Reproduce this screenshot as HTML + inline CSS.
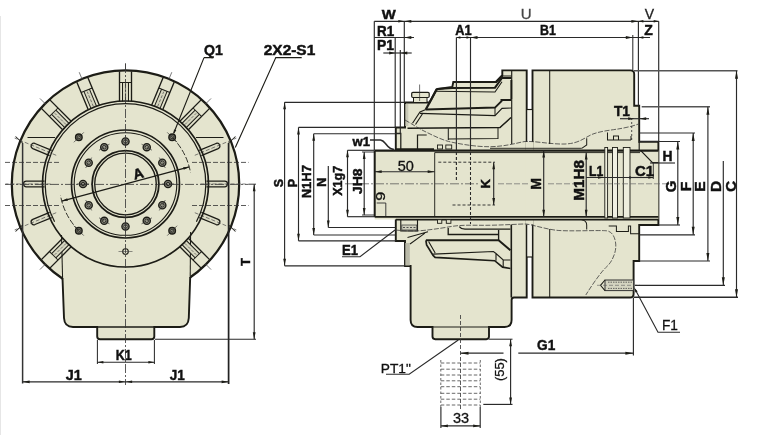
<!DOCTYPE html>
<html><head><meta charset="utf-8"><title>Drawing</title>
<style>
html,body{margin:0;padding:0;background:#fff;overflow:hidden}
svg{display:block;filter:blur(0.35px)}
text{font-family:"Liberation Sans",sans-serif}
</style></head><body>
<svg width="768" height="435" viewBox="0 0 768 435">
<rect x="0" y="0" width="768" height="435" fill="#ffffff"/>
<line x1="0.5" y1="16" x2="0.5" y2="435" stroke="#e6e6e6" stroke-width="1"/>
<g id="leftview">
<circle cx="125.50" cy="184.00" r="113.70" stroke="#1c1c16" stroke-width="2.24" fill="#e4e4ce"/>
<path d="M62,232 L62.5,278 L64,318 Q64.5,327 73,327 L97.2,327 L97.2,336.5 Q97.2,339.2 100,339.2 L151.5,339.2 Q154.3,339.2 154.3,336.5 L154.3,327 L180,327 Q188.3,327 188.8,318 L190.2,277 L190.5,232 Z" stroke="#1c1c16" stroke-width="0.0" fill="#e4e4ce" stroke="none"/>
<path d="M62.5,278 L64,318 Q64.5,327 73,327 L97.2,327 L97.2,336.5 Q97.2,339.2 100,339.2 L151.5,339.2 Q154.3,339.2 154.3,336.5 L154.3,327 L180,327 Q188.3,327 188.8,318 L190.2,277" stroke="#1c1c16" stroke-width="1.9040000000000001" fill="none"/>
<line x1="61.50" y1="235.00" x2="62.60" y2="279.00" stroke="#1c1c16" stroke-width="1.035"/>
<line x1="190.60" y1="232.00" x2="190.20" y2="278.00" stroke="#1c1c16" stroke-width="1.035"/>
<line x1="97.20" y1="327.00" x2="154.30" y2="327.00" stroke="#1c1c16" stroke-width="1.4949999999999999"/>
<path d="M122.50,102.00 L122.50,82.50 L128.50,82.50 L128.50,102.00 Z" stroke="#1c1c16" stroke-width="0.0" fill="#d6d6c0" stroke="none"/>
<path d="M119.50,101.50 L119.50,71.40" stroke="#1c1c16" stroke-width="1.344" fill="none"/>
<path d="M131.50,101.50 L131.50,71.40" stroke="#1c1c16" stroke-width="1.344" fill="none"/>
<path d="M122.50,101.50 L122.50,82.50" stroke="#1c1c16" stroke-width="1.0080000000000002" fill="none"/>
<path d="M128.50,101.50 L128.50,82.50" stroke="#1c1c16" stroke-width="1.0080000000000002" fill="none"/>
<path d="M119.50,82.50 L131.50,82.50" stroke="#1c1c16" stroke-width="1.0080000000000002" fill="none"/>
<path d="M125.50,100.00 L125.50,84.00" stroke="#444" stroke-width="0.672" fill="none" stroke-dasharray="3 1.5"/>
<path d="M125.50,71.00 L125.50,63.00" stroke="#555" stroke-width="0.784" fill="none"/>
<path d="M154.11,107.09 L161.57,89.08 L167.11,91.37 L159.65,109.39 Z" stroke="#1c1c16" stroke-width="0.0" fill="#d6d6c0" stroke="none"/>
<path d="M151.53,105.48 L163.05,77.68" stroke="#1c1c16" stroke-width="1.344" fill="none"/>
<path d="M162.61,110.08 L174.13,82.27" stroke="#1c1c16" stroke-width="1.344" fill="none"/>
<path d="M154.30,106.63 L161.57,89.08" stroke="#1c1c16" stroke-width="1.0080000000000002" fill="none"/>
<path d="M159.84,108.93 L167.11,91.37" stroke="#1c1c16" stroke-width="1.0080000000000002" fill="none"/>
<path d="M158.80,87.93 L169.89,92.52" stroke="#1c1c16" stroke-width="1.0080000000000002" fill="none"/>
<path d="M157.65,106.39 L163.77,91.61" stroke="#444" stroke-width="0.672" fill="none" stroke-dasharray="3 1.5"/>
<path d="M168.74,79.60 L171.80,72.21" stroke="#555" stroke-width="0.784" fill="none"/>
<path d="M181.36,123.90 L195.15,110.11 L199.39,114.35 L185.60,128.14 Z" stroke="#1c1c16" stroke-width="0.0" fill="#d6d6c0" stroke="none"/>
<path d="M179.59,121.42 L200.88,100.14" stroke="#1c1c16" stroke-width="1.344" fill="none"/>
<path d="M188.08,129.91 L209.36,108.62" stroke="#1c1c16" stroke-width="1.344" fill="none"/>
<path d="M181.71,123.54 L195.15,110.11" stroke="#1c1c16" stroke-width="1.0080000000000002" fill="none"/>
<path d="M185.96,127.79 L199.39,114.35" stroke="#1c1c16" stroke-width="1.0080000000000002" fill="none"/>
<path d="M193.03,107.99 L201.51,116.47" stroke="#1c1c16" stroke-width="1.0080000000000002" fill="none"/>
<path d="M184.90,124.60 L196.21,113.29" stroke="#444" stroke-width="0.672" fill="none" stroke-dasharray="3 1.5"/>
<path d="M205.40,104.10 L211.06,98.44" stroke="#555" stroke-width="0.784" fill="none"/>
<path d="M91.35,109.39 L83.89,91.37 L89.43,89.08 L96.89,107.09 Z" stroke="#1c1c16" stroke-width="0.0" fill="#d6d6c0" stroke="none"/>
<path d="M88.39,110.08 L76.87,82.27" stroke="#1c1c16" stroke-width="1.344" fill="none"/>
<path d="M99.47,105.48 L87.95,77.68" stroke="#1c1c16" stroke-width="1.344" fill="none"/>
<path d="M91.16,108.93 L83.89,91.37" stroke="#1c1c16" stroke-width="1.0080000000000002" fill="none"/>
<path d="M96.70,106.63 L89.43,89.08" stroke="#1c1c16" stroke-width="1.0080000000000002" fill="none"/>
<path d="M81.11,92.52 L92.20,87.93" stroke="#1c1c16" stroke-width="1.0080000000000002" fill="none"/>
<path d="M93.35,106.39 L87.23,91.61" stroke="#444" stroke-width="0.672" fill="none" stroke-dasharray="3 1.5"/>
<path d="M82.26,79.60 L79.20,72.21" stroke="#555" stroke-width="0.784" fill="none"/>
<path d="M65.40,128.14 L51.61,114.35 L55.85,110.11 L69.64,123.90 Z" stroke="#1c1c16" stroke-width="0.0" fill="#d6d6c0" stroke="none"/>
<path d="M62.92,129.91 L41.64,108.62" stroke="#1c1c16" stroke-width="1.344" fill="none"/>
<path d="M71.41,121.42 L50.12,100.14" stroke="#1c1c16" stroke-width="1.344" fill="none"/>
<path d="M65.04,127.79 L51.61,114.35" stroke="#1c1c16" stroke-width="1.0080000000000002" fill="none"/>
<path d="M69.29,123.54 L55.85,110.11" stroke="#1c1c16" stroke-width="1.0080000000000002" fill="none"/>
<path d="M49.49,116.47 L57.97,107.99" stroke="#1c1c16" stroke-width="1.0080000000000002" fill="none"/>
<path d="M66.10,124.60 L54.79,113.29" stroke="#444" stroke-width="0.672" fill="none" stroke-dasharray="3 1.5"/>
<path d="M45.60,104.10 L39.94,98.44" stroke="#555" stroke-width="0.784" fill="none"/>
<path d="M185.60,239.86 L199.39,253.65 L195.15,257.89 L181.36,244.10 Z" stroke="#1c1c16" stroke-width="0.0" fill="#d6d6c0" stroke="none"/>
<path d="M188.08,238.09 L209.36,259.38" stroke="#1c1c16" stroke-width="1.344" fill="none"/>
<path d="M179.59,246.58 L200.88,267.86" stroke="#1c1c16" stroke-width="1.344" fill="none"/>
<path d="M185.96,240.21 L199.39,253.65" stroke="#1c1c16" stroke-width="1.0080000000000002" fill="none"/>
<path d="M181.71,244.46 L195.15,257.89" stroke="#1c1c16" stroke-width="1.0080000000000002" fill="none"/>
<path d="M201.51,251.53 L193.03,260.01" stroke="#1c1c16" stroke-width="1.0080000000000002" fill="none"/>
<path d="M184.90,243.40 L196.21,254.71" stroke="#444" stroke-width="0.672" fill="none" stroke-dasharray="3 1.5"/>
<path d="M205.40,263.90 L211.06,269.56" stroke="#555" stroke-width="0.784" fill="none"/>
<path d="M69.64,244.10 L55.85,257.89 L51.61,253.65 L65.40,239.86 Z" stroke="#1c1c16" stroke-width="0.0" fill="#d6d6c0" stroke="none"/>
<path d="M71.41,246.58 L50.12,267.86" stroke="#1c1c16" stroke-width="1.344" fill="none"/>
<path d="M62.92,238.09 L41.64,259.38" stroke="#1c1c16" stroke-width="1.344" fill="none"/>
<path d="M69.29,244.46 L55.85,257.89" stroke="#1c1c16" stroke-width="1.0080000000000002" fill="none"/>
<path d="M65.04,240.21 L51.61,253.65" stroke="#1c1c16" stroke-width="1.0080000000000002" fill="none"/>
<path d="M57.97,260.01 L49.49,251.53" stroke="#1c1c16" stroke-width="1.0080000000000002" fill="none"/>
<path d="M66.10,243.40 L54.79,254.71" stroke="#444" stroke-width="0.672" fill="none" stroke-dasharray="3 1.5"/>
<path d="M45.60,263.90 L39.94,269.56" stroke="#555" stroke-width="0.784" fill="none"/>
<path d="M199.26,150.42 L216.08,143.45 A2.8,2.8 0 0 1 218.22,148.62 L201.41,155.59" stroke="#1c1c16" stroke-width="1.2320000000000002" fill="#dcdcc6"/>
<path d="M194.79,155.30 L236.37,138.08" stroke="#444" stroke-width="0.672" fill="none" stroke-dasharray="4 2"/>
<path d="M206.50,181.20 L224.70,181.20 A2.8,2.8 0 0 1 224.70,186.80 L206.50,186.80" stroke="#1c1c16" stroke-width="1.2320000000000002" fill="#dcdcc6"/>
<path d="M200.50,184.00 L245.50,184.00" stroke="#444" stroke-width="0.672" fill="none" stroke-dasharray="4 2"/>
<path d="M201.41,212.41 L218.22,219.38 A2.8,2.8 0 0 1 216.08,224.55 L199.26,217.58" stroke="#1c1c16" stroke-width="1.2320000000000002" fill="#dcdcc6"/>
<path d="M194.79,212.70 L236.37,229.92" stroke="#444" stroke-width="0.672" fill="none" stroke-dasharray="4 2"/>
<path d="M49.59,155.59 L32.78,148.62 A2.8,2.8 0 0 1 34.92,143.45 L51.74,150.42" stroke="#1c1c16" stroke-width="1.2320000000000002" fill="#dcdcc6"/>
<path d="M56.21,155.30 L14.63,138.08" stroke="#444" stroke-width="0.672" fill="none" stroke-dasharray="4 2"/>
<path d="M44.50,186.80 L26.30,186.80 A2.8,2.8 0 0 1 26.30,181.20 L44.50,181.20" stroke="#1c1c16" stroke-width="1.2320000000000002" fill="#dcdcc6"/>
<path d="M50.50,184.00 L5.50,184.00" stroke="#444" stroke-width="0.672" fill="none" stroke-dasharray="4 2"/>
<path d="M51.74,217.58 L34.92,224.55 A2.8,2.8 0 0 1 32.78,219.38 L49.59,212.41" stroke="#1c1c16" stroke-width="1.2320000000000002" fill="#dcdcc6"/>
<path d="M56.21,212.70 L14.63,229.92" stroke="#444" stroke-width="0.672" fill="none" stroke-dasharray="4 2"/>
<circle cx="125.50" cy="184.00" r="83.00" stroke="#1c1c16" stroke-width="1.6800000000000002" fill="none"/>
<path d="M54.60,221.70 A80.3,80.3 0 1 1 196.40,221.70" stroke="#1c1c16" stroke-width="1.2320000000000002" fill="none"/>
<line x1="22.60" y1="143.00" x2="22.60" y2="383.50" stroke="#333" stroke-width="1.4949999999999999"/>
<line x1="228.60" y1="143.00" x2="228.60" y2="384.00" stroke="#222" stroke-width="1.7249999999999999"/>
<path d="M15.5,136.5 L22.6,143 M27.5,137.6 L55,137.6" stroke="#1c1c16" stroke-width="1.0080000000000002" fill="none"/>
<path d="M235.5,136.5 L228.6,143 M223.5,137.6 L196,137.6" stroke="#1c1c16" stroke-width="1.0080000000000002" fill="none"/>
<path d="M15.5,231.5 L22.6,225 M235.5,231.5 L228.6,225" stroke="#1c1c16" stroke-width="1.0080000000000002" fill="none"/>
<circle cx="125.50" cy="184.00" r="54.00" stroke="#1c1c16" stroke-width="1.6800000000000002" fill="none"/>
<circle cx="125.50" cy="184.00" r="51.30" stroke="#1c1c16" stroke-width="1.12" fill="none"/>
<circle cx="125.50" cy="184.00" r="33.40" stroke="#1c1c16" stroke-width="1.7920000000000003" fill="none"/>
<circle cx="125.50" cy="184.00" r="30.80" stroke="#1c1c16" stroke-width="1.344" fill="none"/>
<circle cx="125.50" cy="141.50" r="3.60" stroke="#1c1c16" stroke-width="1.344" fill="#85857a"/>
<circle cx="125.50" cy="141.50" r="1.70" stroke="#1c1c16" stroke-width="0.8960000000000001" fill="#c9c9b6"/>
<line x1="125.50" y1="147.50" x2="125.50" y2="135.50" stroke="#333" stroke-width="0.69"/>
<circle cx="146.75" cy="147.19" r="3.60" stroke="#1c1c16" stroke-width="1.344" fill="#85857a"/>
<circle cx="146.75" cy="147.19" r="1.70" stroke="#1c1c16" stroke-width="0.8960000000000001" fill="#c9c9b6"/>
<line x1="141.55" y1="144.19" x2="151.95" y2="150.19" stroke="#333" stroke-width="0.69"/>
<circle cx="162.31" cy="162.75" r="3.60" stroke="#1c1c16" stroke-width="1.344" fill="#85857a"/>
<circle cx="162.31" cy="162.75" r="1.70" stroke="#1c1c16" stroke-width="0.8960000000000001" fill="#c9c9b6"/>
<line x1="159.31" y1="157.55" x2="165.31" y2="167.95" stroke="#333" stroke-width="0.69"/>
<circle cx="168.00" cy="184.00" r="3.60" stroke="#1c1c16" stroke-width="1.344" fill="#85857a"/>
<circle cx="168.00" cy="184.00" r="1.70" stroke="#1c1c16" stroke-width="0.8960000000000001" fill="#c9c9b6"/>
<line x1="162.00" y1="184.00" x2="174.00" y2="184.00" stroke="#333" stroke-width="0.69"/>
<circle cx="162.31" cy="205.25" r="3.60" stroke="#1c1c16" stroke-width="1.344" fill="#85857a"/>
<circle cx="162.31" cy="205.25" r="1.70" stroke="#1c1c16" stroke-width="0.8960000000000001" fill="#c9c9b6"/>
<line x1="165.31" y1="200.05" x2="159.31" y2="210.45" stroke="#333" stroke-width="0.69"/>
<circle cx="146.75" cy="220.81" r="3.60" stroke="#1c1c16" stroke-width="1.344" fill="#85857a"/>
<circle cx="146.75" cy="220.81" r="1.70" stroke="#1c1c16" stroke-width="0.8960000000000001" fill="#c9c9b6"/>
<line x1="151.95" y1="217.81" x2="141.55" y2="223.81" stroke="#333" stroke-width="0.69"/>
<circle cx="125.50" cy="226.50" r="3.60" stroke="#1c1c16" stroke-width="1.344" fill="#85857a"/>
<circle cx="125.50" cy="226.50" r="1.70" stroke="#1c1c16" stroke-width="0.8960000000000001" fill="#c9c9b6"/>
<line x1="125.50" y1="220.50" x2="125.50" y2="232.50" stroke="#333" stroke-width="0.69"/>
<circle cx="104.25" cy="220.81" r="3.60" stroke="#1c1c16" stroke-width="1.344" fill="#85857a"/>
<circle cx="104.25" cy="220.81" r="1.70" stroke="#1c1c16" stroke-width="0.8960000000000001" fill="#c9c9b6"/>
<line x1="109.45" y1="223.81" x2="99.05" y2="217.81" stroke="#333" stroke-width="0.69"/>
<circle cx="88.69" cy="205.25" r="3.60" stroke="#1c1c16" stroke-width="1.344" fill="#85857a"/>
<circle cx="88.69" cy="205.25" r="1.70" stroke="#1c1c16" stroke-width="0.8960000000000001" fill="#c9c9b6"/>
<line x1="91.69" y1="210.45" x2="85.69" y2="200.05" stroke="#333" stroke-width="0.69"/>
<circle cx="83.00" cy="184.00" r="3.60" stroke="#1c1c16" stroke-width="1.344" fill="#85857a"/>
<circle cx="83.00" cy="184.00" r="1.70" stroke="#1c1c16" stroke-width="0.8960000000000001" fill="#c9c9b6"/>
<line x1="89.00" y1="184.00" x2="77.00" y2="184.00" stroke="#333" stroke-width="0.69"/>
<circle cx="88.69" cy="162.75" r="3.60" stroke="#1c1c16" stroke-width="1.344" fill="#85857a"/>
<circle cx="88.69" cy="162.75" r="1.70" stroke="#1c1c16" stroke-width="0.8960000000000001" fill="#c9c9b6"/>
<line x1="85.69" y1="167.95" x2="91.69" y2="157.55" stroke="#333" stroke-width="0.69"/>
<circle cx="104.25" cy="147.19" r="3.60" stroke="#1c1c16" stroke-width="1.344" fill="#85857a"/>
<circle cx="104.25" cy="147.19" r="1.70" stroke="#1c1c16" stroke-width="0.8960000000000001" fill="#c9c9b6"/>
<line x1="99.05" y1="150.19" x2="109.45" y2="144.19" stroke="#333" stroke-width="0.69"/>
<circle cx="172.17" cy="137.33" r="3.30" stroke="#1c1c16" stroke-width="1.344" fill="#66665c"/>
<circle cx="172.17" cy="137.33" r="1.40" stroke="#1c1c16" stroke-width="0.784" fill="#b5b5a3"/>
<line x1="167.22" y1="132.38" x2="177.12" y2="142.28" stroke="#333" stroke-width="0.69"/>
<circle cx="172.17" cy="230.67" r="3.30" stroke="#1c1c16" stroke-width="1.344" fill="#66665c"/>
<circle cx="172.17" cy="230.67" r="1.40" stroke="#1c1c16" stroke-width="0.784" fill="#b5b5a3"/>
<line x1="177.12" y1="225.72" x2="167.22" y2="235.62" stroke="#333" stroke-width="0.69"/>
<circle cx="78.83" cy="230.67" r="3.30" stroke="#1c1c16" stroke-width="1.344" fill="#66665c"/>
<circle cx="78.83" cy="230.67" r="1.40" stroke="#1c1c16" stroke-width="0.784" fill="#b5b5a3"/>
<line x1="83.78" y1="235.62" x2="73.88" y2="225.72" stroke="#333" stroke-width="0.69"/>
<circle cx="78.83" cy="137.33" r="3.30" stroke="#1c1c16" stroke-width="1.344" fill="#66665c"/>
<circle cx="78.83" cy="137.33" r="1.40" stroke="#1c1c16" stroke-width="0.784" fill="#b5b5a3"/>
<line x1="73.88" y1="142.28" x2="83.78" y2="132.38" stroke="#333" stroke-width="0.69"/>
<circle cx="125.50" cy="251.50" r="2.80" stroke="#1c1c16" stroke-width="1.12" fill="#e4e4ce"/>
<line x1="118.50" y1="251.50" x2="132.50" y2="251.50" stroke="#444" stroke-width="0.575"/>
<path d="M172.17,137.33 A66,66 0 0 1 190.50,172.54" stroke="#1c1c16" stroke-width="0.8960000000000001" fill="none" stroke-dasharray="6 2"/>
<path d="M78.83,230.67 A66,66 0 0 1 60.50,195.46" stroke="#1c1c16" stroke-width="0.8960000000000001" fill="none" stroke-dasharray="6 2"/>
<line x1="5.00" y1="184.40" x2="248.50" y2="184.40" stroke="#333" stroke-width="0.8049999999999999" stroke-dasharray="9 2 2 2"/>
<line x1="125.50" y1="64.00" x2="125.50" y2="385.00" stroke="#333" stroke-width="0.8049999999999999" stroke-dasharray="9 2 2 2"/>
<line x1="5.00" y1="162.40" x2="60.00" y2="162.40" stroke="#333" stroke-width="0.8049999999999999" stroke-dasharray="5 2"/>
<line x1="5.00" y1="205.50" x2="60.00" y2="205.50" stroke="#333" stroke-width="0.8049999999999999" stroke-dasharray="5 2"/>
<line x1="192.00" y1="162.40" x2="248.50" y2="162.40" stroke="#333" stroke-width="0.8049999999999999" stroke-dasharray="5 2"/>
<line x1="192.00" y1="205.50" x2="248.50" y2="205.50" stroke="#333" stroke-width="0.8049999999999999" stroke-dasharray="5 2"/>
<line x1="61.75" y1="201.08" x2="189.25" y2="166.92" stroke="#1c1c16" stroke-width="1.265"/>
<polygon points="189.25,166.92 183.78,169.68 183.13,167.26" fill="#1c1c16"/>
<polygon points="61.75,201.08 67.22,198.32 67.87,200.74" fill="#1c1c16"/>
<text x="139.50" y="178.30" font-size="14.5" font-weight="bold" text-anchor="middle" fill="#111" stroke="#111" stroke-width="0.45" transform="rotate(-15 139.50 178.30)" textLength="10.5" lengthAdjust="spacingAndGlyphs">A</text>
<text x="213.50" y="55.20" font-size="14" font-weight="bold" text-anchor="middle" fill="#111" stroke="#111" stroke-width="0.45" textLength="18.8" lengthAdjust="spacingAndGlyphs">Q1</text>
<path d="M204,57.6 L213.5,57.6 M204,57.6 L173.8,133" stroke="#1c1c16" stroke-width="1.12" fill="none"/>
<polygon points="173.30,134.50 174.01,129.40 176.33,130.33" fill="#1c1c16"/>
<text x="289.50" y="55.20" font-size="14" font-weight="bold" text-anchor="middle" fill="#111" stroke="#111" stroke-width="0.45" textLength="51.5" lengthAdjust="spacingAndGlyphs">2X2-S1</text>
<path d="M301.7,57.6 L275.8,57.6 L235.3,147.5" stroke="#1c1c16" stroke-width="1.12" fill="none"/>
<line x1="97.40" y1="340.00" x2="97.40" y2="364.00" stroke="#2a2a2a" stroke-width="1.035"/>
<line x1="154.40" y1="340.00" x2="154.40" y2="364.00" stroke="#2a2a2a" stroke-width="1.035"/>
<line x1="97.40" y1="362.20" x2="154.40" y2="362.20" stroke="#2a2a2a" stroke-width="1.15"/>
<polygon points="97.40,362.20 103.40,360.95 103.40,363.45" fill="#1c1c16"/>
<polygon points="154.40,362.20 148.40,363.45 148.40,360.95" fill="#1c1c16"/>
<text x="123.80" y="360.40" font-size="14" font-weight="bold" text-anchor="middle" fill="#111" stroke="#111" stroke-width="0.45" textLength="16" lengthAdjust="spacingAndGlyphs">K1</text>
<line x1="22.60" y1="381.80" x2="228.60" y2="381.80" stroke="#2a2a2a" stroke-width="1.15"/>
<polygon points="22.60,381.80 29.60,380.43 29.60,383.18" fill="#1c1c16"/>
<polygon points="228.60,381.80 221.60,383.18 221.60,380.43" fill="#1c1c16"/>
<polygon points="124.90,381.80 118.90,383.05 118.90,380.55" fill="#1c1c16"/>
<polygon points="126.10,381.80 132.10,380.55 132.10,383.05" fill="#1c1c16"/>
<text x="73.80" y="380.40" font-size="14" font-weight="bold" text-anchor="middle" fill="#111" stroke="#111" stroke-width="0.45" textLength="16" lengthAdjust="spacingAndGlyphs">J1</text>
<text x="177.20" y="380.40" font-size="14" font-weight="bold" text-anchor="middle" fill="#111" stroke="#111" stroke-width="0.45" textLength="15" lengthAdjust="spacingAndGlyphs">J1</text>
<line x1="155.00" y1="339.20" x2="256.00" y2="339.20" stroke="#2a2a2a" stroke-width="1.15"/>
<line x1="254.20" y1="184.20" x2="254.20" y2="339.20" stroke="#2a2a2a" stroke-width="1.15"/>
<polygon points="254.20,184.20 255.57,191.20 252.82,191.20" fill="#1c1c16"/>
<polygon points="254.20,339.20 252.82,332.20 255.57,332.20" fill="#1c1c16"/>
<line x1="248.50" y1="184.20" x2="256.00" y2="184.20" stroke="#2a2a2a" stroke-width="0.9199999999999999"/>
<text x="249.60" y="262.00" font-size="13" font-weight="bold" text-anchor="middle" fill="#111" stroke="#111" stroke-width="0.45" transform="rotate(-90 249.60 262.00)">T</text>
</g>
<g id="rightview">
<path d="M405,102.5 L429.6,102.5 L436.7,89.2 L452.3,87 L453.3,82 L496,82 L502.3,75.5 L502.3,70.4 L526.7,70.4 L526.7,297.5 L514,297.5 Q511.6,297.5 511.6,300 L511.6,320 Q511.6,327 504.5,327 L489,327 L489,336.6 Q489,339.2 486.3,339.2 L435.3,339.2 Q432.5,339.2 432.5,336.6 L432.5,327 L417.5,327 Q410.6,327 410.6,320 L410.6,266 L405,266 L405,241 L395.8,241 L395.8,127.5 L405,127.5 Z" stroke="#1c1c16" stroke-width="1.9040000000000001" fill="#e4e4ce"/>
<path d="M532.5,70.4 L630.5,70.4 Q634.2,70.4 634.2,74 L634.2,105.8 L639.2,105.8 L639.2,141.7 L658.4,141.7 L658.4,225 L639.2,225 L639.2,261 L633.6,261 L633.6,294 Q633.6,297.5 630,297.5 L532.5,297.5 Z" stroke="#1c1c16" stroke-width="1.9040000000000001" fill="#e4e4ce"/>
<rect x="527.4" y="109.5" width="4.4" height="32" fill="#f1f1e6"/>
<rect x="527.4" y="225" width="4.4" height="32" fill="#f1f1e6"/>
<line x1="527.00" y1="109.50" x2="532.00" y2="109.50" stroke="#1c1c16" stroke-width="1.15"/>
<line x1="527.00" y1="257.00" x2="532.00" y2="257.00" stroke="#1c1c16" stroke-width="1.15"/>
<rect x="374.7" y="150.5" width="283.7" height="69" fill="#e4e4ce"/>
<rect x="525.6" y="142" width="8" height="82.5" fill="#e4e4ce"/>
<rect x="413.5" y="97" width="13.5" height="5.5" fill="#e4e4ce" stroke="#1c1c16" stroke-width="1"/>
<rect x="411.7" y="92.3" width="17.5" height="5.2" rx="1.2" fill="#e4e4ce" stroke="#1c1c16" stroke-width="1.2"/>
<line x1="419.60" y1="84.50" x2="419.60" y2="101.00" stroke="#333" stroke-width="0.69"/>
<line x1="432.50" y1="327.00" x2="489.00" y2="327.00" stroke="#1c1c16" stroke-width="1.15"/>
<path d="M453.3,82 L496,82 L502.3,75.5" stroke="#1c1c16" stroke-width="2.24" fill="none"/>
<path d="M437,89 L452.3,87.9 L495,87.7 L502,78 L511.3,78" stroke="#1c1c16" stroke-width="2.0160000000000005" fill="none"/>
<path d="M435.9,91.2 L495,92 L502,81.8" stroke="#1c1c16" stroke-width="1.12" fill="none"/>
<path d="M502.3,76 L511.3,76" stroke="#1c1c16" stroke-width="1.0080000000000002" fill="none"/>
<line x1="511.30" y1="80.00" x2="511.30" y2="99.00" stroke="#1c1c16" stroke-width="1.8399999999999999"/>
<path d="M436.7,89.2 L425.8,109.5" stroke="#1c1c16" stroke-width="2.24" fill="none"/>
<line x1="511.70" y1="70.40" x2="511.70" y2="144.00" stroke="#1c1c16" stroke-width="1.15"/>
<path d="M425.8,109.5 L495,107.6 L501.5,101.2 L501.5,100 L511.3,100" stroke="#1c1c16" stroke-width="2.0160000000000005" fill="none"/>
<path d="M420,113.4 L495,115.6 L502,108.4 L511.3,108" stroke="#1c1c16" stroke-width="1.12" fill="none"/>
<path d="M425.8,109.5 L420,112 L412.5,123.3 M423,113 L415.5,124.5" stroke="#1c1c16" stroke-width="1.12" fill="none"/>
<path d="M495,107.6 L495,115.6" stroke="#1c1c16" stroke-width="1.0080000000000002" fill="none"/>
<path d="M407.5,128.2 L500,127.6 L511,117.5" stroke="#1c1c16" stroke-width="1.4560000000000002" fill="none"/>
<path d="M448.3,128.3 L448.3,140 M448.3,139 L498,138.6 L498,128" stroke="#1c1c16" stroke-width="1.0080000000000002" fill="none"/>
<path d="M500,127.6 L508.5,120" stroke="#1c1c16" stroke-width="0.8960000000000001" fill="none"/>
<path d="M395.8,127.5 L405,127.5 M395.8,133.3 L400.8,133.3 L400.8,149 M405,102.5 L405,127.5" stroke="#1c1c16" stroke-width="1.2320000000000002" fill="none"/>
<rect x="405.3" y="104" width="3" height="22" fill="#c8c8b6"/>
<path d="M405,120 C412,124 418,128 424,131 S440,139 447,141 S475,147 490,146.7 S515,143.5 523,141.8 S550,144.5 565,144 S585,137 593,134 S612,130 618,129 S632,126.5 638.5,124" stroke="#3a3a3a" stroke-width="0.784" fill="none" stroke-dasharray="5 1.5"/>
<path d="M417.5,149 L417.5,135 L426.7,135" stroke="#1c1c16" stroke-width="1.2320000000000002" fill="none"/>
<rect x="437.5" y="145" width="5.0" height="4" fill="#e4e4ce" stroke="#1c1c16" stroke-width="0.9"/>
<rect x="445.8" y="145" width="5.899999999999977" height="4" fill="#e4e4ce" stroke="#1c1c16" stroke-width="0.9"/>
<line x1="395.80" y1="149.20" x2="434.00" y2="149.20" stroke="#1c1c16" stroke-width="1.8399999999999999"/>
<path d="M374.7,150.5 L374.7,217" stroke="#1c1c16" stroke-width="2.0160000000000005" fill="none"/>
<line x1="374.70" y1="150.60" x2="658.40" y2="150.60" stroke="#1c1c16" stroke-width="2.07"/>
<line x1="434.70" y1="152.60" x2="640.00" y2="152.60" stroke="#1c1c16" stroke-width="0.9199999999999999"/>
<line x1="490.00" y1="148.30" x2="581.70" y2="148.30" stroke="#1c1c16" stroke-width="0.9199999999999999"/>
<line x1="374.70" y1="216.80" x2="658.40" y2="216.80" stroke="#1c1c16" stroke-width="1.8399999999999999"/>
<line x1="395.80" y1="219.60" x2="658.40" y2="219.60" stroke="#1c1c16" stroke-width="1.8399999999999999"/>
<line x1="434.70" y1="152.60" x2="434.70" y2="216.80" stroke="#1c1c16" stroke-width="0.9199999999999999"/>
<path d="M400.8,219.7 L400.8,231 L417.5,231 L417.5,219.7" stroke="#1c1c16" stroke-width="1.12" fill="none"/>
<rect x="401.8" y="225" width="15" height="5" fill="#cfcfbc" stroke="#333" stroke-width="0.7"/>
<line x1="403.00" y1="227.50" x2="416.00" y2="227.50" stroke="#444" stroke-width="0.9199999999999999" stroke-dasharray="2 1.5"/>
<rect x="437.5" y="219.7" width="4.300000000000011" height="3.6" fill="#e4e4ce" stroke="#1c1c16" stroke-width="0.9"/>
<rect x="446.3" y="219.7" width="4.599999999999966" height="3.6" fill="#e4e4ce" stroke="#1c1c16" stroke-width="0.9"/>
<rect x="405.3" y="243" width="4.5" height="22.5" fill="#b9b9a8"/>
<path d="M407.5,237.5 L428,231.7 M410,244 L425,233.2" stroke="#1c1c16" stroke-width="1.0080000000000002" fill="none"/>
<path d="M395,230 C405,231 412,231 418.3,230.8 S440,228.5 450,226.7 S470,225.2 483.3,225.3 S520,224 525,224 S545,229 556.7,230.3 S600,230 606.7,230.8 S616,240 615.8,246.7 S612,262 606.7,266.7 S592,285 585.8,295" stroke="#3a3a3a" stroke-width="0.784" fill="none" stroke-dasharray="5 1.5"/>
<path d="M448.2,227.9 L448.2,234.5 L498.6,234.5 L498.6,229.9 M459.3,226.6 Q461,229 465,229.2 L510.4,229.2 M498.6,234.5 L498.6,240.3" stroke="#1c1c16" stroke-width="1.344" fill="none"/>
<path d="M425.9,240.3 L498.6,240.3 L510.4,250.2" stroke="#1c1c16" stroke-width="2.0160000000000005" fill="none"/>
<path d="M425.9,240.3 L426.6,245 L433.1,255.4 L435.1,257.4 L494.7,260.7 L502.6,267.2 L510.4,268.5" stroke="#1c1c16" stroke-width="1.6800000000000002" fill="none"/>
<path d="M433.1,254.1 L493.4,251.5 L496,253.5 L503.2,260 L510.4,260 M496,253.5 L496,260.7 M503.2,260 L503.2,267.2 M428.6,241.5 L435.2,253" stroke="#1c1c16" stroke-width="1.12" fill="none"/>
<line x1="511.30" y1="224.60" x2="511.30" y2="297.50" stroke="#1c1c16" stroke-width="1.6099999999999999"/>
<line x1="549.70" y1="70.40" x2="549.70" y2="144.00" stroke="#1c1c16" stroke-width="1.035"/>
<line x1="549.70" y1="229.00" x2="549.70" y2="297.50" stroke="#1c1c16" stroke-width="1.035"/>
<path d="M586.7,138.3 L586.7,145 L581.7,148.3" stroke="#1c1c16" stroke-width="1.0080000000000002" fill="none"/>
<path d="M581.7,219.7 Q586.7,220.5 586.7,225 L586.7,229.5" stroke="#1c1c16" stroke-width="1.0080000000000002" fill="none"/>
<path d="M607.5,132.5 L607.5,140 L631,140 M613.5,140 L613.5,136 L618.5,136 L618.5,140 M631,136 L631,140" stroke="#1c1c16" stroke-width="1.0080000000000002" fill="none"/>
<path d="M608.7,226 L616.4,226 L616.4,231.6 L628.4,231.6 L628.4,226 L630.6,226 L630.6,233.8 L639,233.8" stroke="#1c1c16" stroke-width="1.0080000000000002" fill="none"/>
<rect x="604.8" y="147.5" width="2.800000000000068" height="70.5" fill="#eeeedd" stroke="#1c1c16" stroke-width="0.9"/>
<rect x="612.5" y="147.5" width="5.0" height="70.5" fill="#f0f0e2" stroke="#1c1c16" stroke-width="0.9"/>
<rect x="623.3" y="147.5" width="6.7000000000000455" height="70.5" fill="#eeeedd" stroke="#1c1c16" stroke-width="0.9"/>
<path d="M640.8,150.6 L652.5,162.6 L658.4,162.6" stroke="#1c1c16" stroke-width="1.2320000000000002" fill="none"/>
<line x1="639.20" y1="141.70" x2="639.20" y2="150.60" stroke="#1c1c16" stroke-width="1.15"/>
<rect x="605" y="280" width="28.6" height="10.6" fill="#d4d4c0" stroke="#333" stroke-width="1"/>
<path d="M605,280 L600.5,285.3 L605,290.6" stroke="#1c1c16" stroke-width="1.0080000000000002" fill="none"/>
<line x1="608.00" y1="282.20" x2="633.60" y2="282.20" stroke="#444" stroke-width="0.8049999999999999" stroke-dasharray="1.5 1"/>
<line x1="608.00" y1="288.40" x2="633.60" y2="288.40" stroke="#444" stroke-width="0.8049999999999999" stroke-dasharray="1.5 1"/>
<line x1="597.00" y1="285.30" x2="640.00" y2="285.30" stroke="#555" stroke-width="0.575" stroke-dasharray="4 2"/>
<line x1="345.00" y1="183.80" x2="480.00" y2="183.80" stroke="#444" stroke-width="0.69" stroke-dasharray="9 2 2 2"/>
<line x1="498.00" y1="183.80" x2="528.00" y2="183.80" stroke="#666" stroke-width="0.69" stroke-dasharray="6 2"/>
<line x1="548.00" y1="183.80" x2="575.00" y2="183.80" stroke="#666" stroke-width="0.69" stroke-dasharray="6 2"/>
<line x1="590.00" y1="183.80" x2="672.00" y2="183.80" stroke="#666" stroke-width="0.69" stroke-dasharray="6 2"/>
<line x1="460.50" y1="315.00" x2="460.50" y2="410.00" stroke="#333" stroke-width="0.8049999999999999" stroke-dasharray="4 2"/>
<line x1="440.80" y1="363.00" x2="480.30" y2="363.00" stroke="#444" stroke-width="0.8049999999999999" stroke-dasharray="3.5 2"/>
<line x1="440.80" y1="369.20" x2="480.30" y2="369.20" stroke="#444" stroke-width="0.8049999999999999" stroke-dasharray="3.5 2"/>
<line x1="440.80" y1="375.00" x2="480.30" y2="375.00" stroke="#444" stroke-width="0.8049999999999999" stroke-dasharray="3.5 2"/>
<line x1="440.80" y1="380.80" x2="480.30" y2="380.80" stroke="#444" stroke-width="0.8049999999999999" stroke-dasharray="3.5 2"/>
<line x1="440.80" y1="386.70" x2="480.30" y2="386.70" stroke="#444" stroke-width="0.8049999999999999" stroke-dasharray="3.5 2"/>
<line x1="440.80" y1="393.30" x2="480.30" y2="393.30" stroke="#444" stroke-width="0.8049999999999999" stroke-dasharray="3.5 2"/>
<line x1="440.80" y1="399.20" x2="480.30" y2="399.20" stroke="#444" stroke-width="0.8049999999999999" stroke-dasharray="3.5 2"/>
<line x1="440.80" y1="405.00" x2="480.30" y2="405.00" stroke="#444" stroke-width="0.8049999999999999" stroke-dasharray="3.5 2"/>
<line x1="440.80" y1="360.00" x2="440.80" y2="407.00" stroke="#444" stroke-width="0.8049999999999999" stroke-dasharray="2.5 2"/>
<line x1="480.30" y1="360.00" x2="480.30" y2="407.00" stroke="#444" stroke-width="0.8049999999999999" stroke-dasharray="2.5 2"/>
<line x1="440.90" y1="407.00" x2="440.90" y2="428.00" stroke="#2a2a2a" stroke-width="1.15"/>
<line x1="480.20" y1="407.00" x2="480.20" y2="428.00" stroke="#2a2a2a" stroke-width="1.15"/>
</g>
<g id="dims">
<line x1="374.30" y1="21.30" x2="374.30" y2="150.00" stroke="#2a2a2a" stroke-width="1.15"/>
<line x1="395.20" y1="37.50" x2="395.20" y2="127.00" stroke="#2a2a2a" stroke-width="1.15"/>
<line x1="400.30" y1="50.00" x2="400.30" y2="133.00" stroke="#2a2a2a" stroke-width="1.15"/>
<line x1="404.30" y1="21.30" x2="404.30" y2="102.50" stroke="#2a2a2a" stroke-width="1.15"/>
<line x1="456.40" y1="37.50" x2="456.40" y2="150.00" stroke="#2a2a2a" stroke-width="1.15"/>
<line x1="456.40" y1="152.00" x2="456.40" y2="181.00" stroke="#2a2a2a" stroke-width="1.15" stroke-dasharray="3 2"/>
<line x1="470.50" y1="37.50" x2="470.50" y2="150.00" stroke="#2a2a2a" stroke-width="1.15"/>
<line x1="470.50" y1="152.00" x2="470.50" y2="224.00" stroke="#2a2a2a" stroke-width="1.035" stroke-dasharray="3 2"/>
<line x1="632.80" y1="35.00" x2="632.80" y2="70.00" stroke="#2a2a2a" stroke-width="1.035"/>
<line x1="638.40" y1="21.30" x2="638.40" y2="105.80" stroke="#2a2a2a" stroke-width="1.15"/>
<line x1="658.70" y1="21.30" x2="658.70" y2="141.70" stroke="#2a2a2a" stroke-width="1.15"/>
<line x1="374.30" y1="21.30" x2="658.70" y2="21.30" stroke="#2a2a2a" stroke-width="1.15"/>
<polygon points="404.30,21.30 398.30,22.55 398.30,20.05" fill="#1c1c16"/>
<polygon points="404.30,21.30 411.30,19.93 411.30,22.68" fill="#1c1c16"/>
<polygon points="638.40,21.30 631.40,22.68 631.40,19.93" fill="#1c1c16"/>
<polygon points="638.40,21.30 643.40,20.05 643.40,22.55" fill="#1c1c16"/>
<polygon points="658.70,21.30 653.70,22.55 653.70,20.05" fill="#1c1c16"/>
<text x="388.80" y="18.80" font-size="13.5" font-weight="bold" text-anchor="middle" fill="#111" stroke="#111" stroke-width="0.45" textLength="14" lengthAdjust="spacingAndGlyphs">W</text>
<text x="526.20" y="19.20" font-size="15" font-weight="normal" text-anchor="middle" fill="#444" stroke="#444" stroke-width="0.3">U</text>
<text x="649.40" y="19.20" font-size="14" font-weight="normal" text-anchor="middle" fill="#222" stroke="#222" stroke-width="0.3">V</text>
<line x1="374.30" y1="37.50" x2="414.00" y2="37.50" stroke="#2a2a2a" stroke-width="1.15"/>
<polygon points="404.30,37.50 411.30,36.12 411.30,38.88" fill="#1c1c16"/>
<text x="385.60" y="35.50" font-size="14" font-weight="bold" text-anchor="middle" fill="#111" stroke="#111" stroke-width="0.45" textLength="17.2" lengthAdjust="spacingAndGlyphs">R1</text>
<line x1="383.30" y1="53.00" x2="411.70" y2="53.00" stroke="#2a2a2a" stroke-width="1.15"/>
<polygon points="395.20,53.00 389.20,54.38 389.20,51.62" fill="#1c1c16"/>
<polygon points="400.30,53.00 407.30,51.62 407.30,54.38" fill="#1c1c16"/>
<text x="385.50" y="50.40" font-size="14" font-weight="bold" text-anchor="middle" fill="#111" stroke="#111" stroke-width="0.45" textLength="17" lengthAdjust="spacingAndGlyphs">P1</text>
<line x1="456.40" y1="37.50" x2="650.00" y2="37.50" stroke="#2a2a2a" stroke-width="1.15"/>
<polygon points="456.40,37.50 460.40,36.25 460.40,38.75" fill="#1c1c16"/>
<polygon points="470.50,37.50 466.50,38.75 466.50,36.25" fill="#1c1c16"/>
<polygon points="470.50,37.50 477.50,36.12 477.50,38.88" fill="#1c1c16"/>
<polygon points="632.80,37.50 625.80,38.88 625.80,36.12" fill="#1c1c16"/>
<polygon points="638.40,37.50 643.40,36.25 643.40,38.75" fill="#1c1c16"/>
<text x="463.50" y="35.40" font-size="14" font-weight="bold" text-anchor="middle" fill="#111" stroke="#111" stroke-width="0.45" textLength="16.4" lengthAdjust="spacingAndGlyphs">A1</text>
<text x="547.90" y="35.40" font-size="14" font-weight="bold" text-anchor="middle" fill="#111" stroke="#111" stroke-width="0.45" textLength="15.8" lengthAdjust="spacingAndGlyphs">B1</text>
<text x="648.60" y="35.40" font-size="14" font-weight="bold" text-anchor="middle" fill="#111" stroke="#111" stroke-width="0.45">Z</text>
<line x1="284.60" y1="102.30" x2="284.60" y2="265.80" stroke="#2a2a2a" stroke-width="1.15"/>
<line x1="284.60" y1="102.30" x2="404.30" y2="102.30" stroke="#2a2a2a" stroke-width="1.15"/>
<line x1="284.60" y1="265.80" x2="405.00" y2="265.80" stroke="#2a2a2a" stroke-width="1.15"/>
<polygon points="284.60,102.30 285.98,109.30 283.23,109.30" fill="#1c1c16"/>
<polygon points="284.60,265.80 283.23,258.80 285.98,258.80" fill="#1c1c16"/>
<line x1="298.50" y1="127.40" x2="298.50" y2="240.80" stroke="#2a2a2a" stroke-width="1.15"/>
<line x1="298.50" y1="127.40" x2="395.80" y2="127.40" stroke="#2a2a2a" stroke-width="1.15"/>
<line x1="298.50" y1="240.80" x2="395.80" y2="240.80" stroke="#2a2a2a" stroke-width="1.15"/>
<polygon points="298.50,127.40 299.88,134.40 297.12,134.40" fill="#1c1c16"/>
<polygon points="298.50,240.80 297.12,233.80 299.88,233.80" fill="#1c1c16"/>
<line x1="313.70" y1="133.70" x2="313.70" y2="235.00" stroke="#2a2a2a" stroke-width="1.15"/>
<line x1="313.70" y1="133.70" x2="400.80" y2="133.70" stroke="#2a2a2a" stroke-width="1.15"/>
<line x1="313.70" y1="235.00" x2="395.80" y2="235.00" stroke="#2a2a2a" stroke-width="1.15"/>
<polygon points="313.70,133.70 315.07,140.70 312.32,140.70" fill="#1c1c16"/>
<polygon points="313.70,235.00 312.32,228.00 315.07,228.00" fill="#1c1c16"/>
<line x1="328.30" y1="166.00" x2="328.30" y2="227.50" stroke="#2a2a2a" stroke-width="1.15"/>
<line x1="328.30" y1="227.50" x2="395.80" y2="227.50" stroke="#2a2a2a" stroke-width="1.15"/>
<polygon points="328.30,227.50 326.93,220.50 329.68,220.50" fill="#1c1c16"/>
<line x1="347.50" y1="150.30" x2="347.50" y2="216.70" stroke="#2a2a2a" stroke-width="1.15"/>
<line x1="347.50" y1="150.30" x2="374.70" y2="150.30" stroke="#2a2a2a" stroke-width="1.15"/>
<line x1="347.50" y1="216.70" x2="374.70" y2="216.70" stroke="#2a2a2a" stroke-width="1.15"/>
<polygon points="347.50,150.30 348.88,157.30 346.12,157.30" fill="#1c1c16"/>
<polygon points="347.50,216.70 346.12,209.70 348.88,209.70" fill="#1c1c16"/>
<line x1="364.20" y1="152.00" x2="364.20" y2="215.00" stroke="#2a2a2a" stroke-width="1.15"/>
<line x1="362.00" y1="215.00" x2="374.00" y2="215.00" stroke="#2a2a2a" stroke-width="0.9199999999999999"/>
<line x1="362.00" y1="152.00" x2="374.00" y2="152.00" stroke="#2a2a2a" stroke-width="0.9199999999999999"/>
<polygon points="364.20,152.00 365.57,159.00 362.82,159.00" fill="#1c1c16"/>
<polygon points="364.20,215.00 362.82,208.00 365.57,208.00" fill="#1c1c16"/>
<text x="282.60" y="183.00" font-size="12.5" font-weight="bold" text-anchor="middle" fill="#111" stroke="#111" stroke-width="0.45" transform="rotate(-90 282.60 183.00)">S</text>
<text x="296.80" y="183.00" font-size="12.5" font-weight="bold" text-anchor="middle" fill="#111" stroke="#111" stroke-width="0.45" transform="rotate(-90 296.80 183.00)">P</text>
<text x="311.00" y="181.70" font-size="12.5" font-weight="bold" text-anchor="middle" fill="#111" stroke="#111" stroke-width="0.45" transform="rotate(-90 311.00 181.70)" textLength="33.3" lengthAdjust="spacingAndGlyphs">N1H7</text>
<text x="326.40" y="182.30" font-size="12.5" font-weight="bold" text-anchor="middle" fill="#111" stroke="#111" stroke-width="0.45" transform="rotate(-90 326.40 182.30)">N</text>
<text x="341.60" y="180.80" font-size="12.5" font-weight="bold" text-anchor="middle" fill="#111" stroke="#111" stroke-width="0.45" transform="rotate(-90 341.60 180.80)" textLength="30" lengthAdjust="spacingAndGlyphs">X1g7</text>
<text x="362.30" y="181.20" font-size="12.5" font-weight="bold" text-anchor="middle" fill="#111" stroke="#111" stroke-width="0.45" transform="rotate(-90 362.30 181.20)" textLength="25.7" lengthAdjust="spacingAndGlyphs">JH8</text>
<text x="361.20" y="145.80" font-size="12.5" font-weight="bold" text-anchor="middle" fill="#111" stroke="#111" stroke-width="0.45" textLength="17.5" lengthAdjust="spacingAndGlyphs">w1</text>
<path d="M370,140 L380.5,140 Q383,140.5 385,143 L388,146.5 Q390,149 394,149.6" stroke="#2a2a2a" stroke-width="1.568" fill="none"/>
<text x="350.00" y="254.70" font-size="14" font-weight="bold" text-anchor="middle" fill="#111" stroke="#111" stroke-width="0.45" textLength="16" lengthAdjust="spacingAndGlyphs">E1</text>
<path d="M342,256.8 L360,256.8 L395,230" stroke="#2a2a2a" stroke-width="1.12" fill="none"/>
<line x1="374.70" y1="171.70" x2="434.70" y2="171.70" stroke="#2a2a2a" stroke-width="1.15"/>
<polygon points="374.70,171.70 381.70,170.32 381.70,173.07" fill="#1c1c16"/>
<polygon points="434.70,171.70 427.70,173.07 427.70,170.32" fill="#1c1c16"/>
<text x="405.70" y="170.80" font-size="14.5" font-weight="normal" text-anchor="middle" fill="#111" stroke="#111" stroke-width="0.3">50</text>
<text x="385.30" y="196.20" font-size="13" font-weight="normal" text-anchor="middle" fill="#111" stroke="#111" stroke-width="0.3" transform="rotate(-90 385.30 196.20)" textLength="9" lengthAdjust="spacingAndGlyphs">9</text>
<path d="M376.7,203 L385.8,203 L385.8,216" stroke="#2a2a2a" stroke-width="0.8960000000000001" fill="none"/>
<line x1="438.30" y1="162.20" x2="495.00" y2="162.20" stroke="#2a2a2a" stroke-width="0.9199999999999999" stroke-dasharray="3 2"/>
<line x1="452.50" y1="205.00" x2="495.00" y2="205.00" stroke="#2a2a2a" stroke-width="0.9199999999999999" stroke-dasharray="3 2"/>
<line x1="493.70" y1="162.20" x2="493.70" y2="205.00" stroke="#2a2a2a" stroke-width="1.15"/>
<polygon points="493.70,162.20 495.07,169.20 492.32,169.20" fill="#1c1c16"/>
<polygon points="493.70,205.00 492.32,198.00 495.07,198.00" fill="#1c1c16"/>
<text x="490.00" y="183.70" font-size="13" font-weight="bold" text-anchor="middle" fill="#111" stroke="#111" stroke-width="0.45" transform="rotate(-90 490.00 183.70)">K</text>
<line x1="543.70" y1="150.60" x2="543.70" y2="216.80" stroke="#2a2a2a" stroke-width="1.15"/>
<polygon points="543.70,150.60 545.08,157.60 542.33,157.60" fill="#1c1c16"/>
<polygon points="543.70,216.80 542.33,209.80 545.08,209.80" fill="#1c1c16"/>
<text x="541.00" y="183.80" font-size="14" font-weight="bold" text-anchor="middle" fill="#111" stroke="#111" stroke-width="0.45" transform="rotate(-90 541.00 183.80)">M</text>
<line x1="586.20" y1="152.60" x2="586.20" y2="216.80" stroke="#2a2a2a" stroke-width="1.15"/>
<polygon points="586.20,152.60 587.58,159.60 584.83,159.60" fill="#1c1c16"/>
<polygon points="586.20,216.80 584.83,209.80 587.58,209.80" fill="#1c1c16"/>
<text x="584.00" y="180.40" font-size="14" font-weight="bold" text-anchor="middle" fill="#111" stroke="#111" stroke-width="0.45" transform="rotate(-90 584.00 180.40)" textLength="40.8" lengthAdjust="spacingAndGlyphs">M1H8</text>
<line x1="586.20" y1="177.50" x2="630.00" y2="177.50" stroke="#2a2a2a" stroke-width="1.15"/>
<polygon points="604.00,177.50 598.00,178.75 598.00,176.25" fill="#1c1c16"/>
<text x="596.20" y="175.80" font-size="14" font-weight="bold" text-anchor="middle" fill="#111" stroke="#111" stroke-width="0.45" textLength="14.3" lengthAdjust="spacingAndGlyphs">L1</text>
<line x1="630.00" y1="177.50" x2="653.30" y2="177.50" stroke="#2a2a2a" stroke-width="1.15"/>
<circle cx="630.00" cy="177.50" r="1.20" stroke="#2a2a2a" stroke-width="0.0" fill="#2a2a2a"/>
<polygon points="653.30,177.50 648.30,178.75 648.30,176.25" fill="#1c1c16"/>
<line x1="653.30" y1="163.00" x2="653.30" y2="179.00" stroke="#2a2a2a" stroke-width="0.9199999999999999"/>
<text x="644.50" y="175.80" font-size="14" font-weight="bold" text-anchor="middle" fill="#111" stroke="#111" stroke-width="0.45" textLength="19" lengthAdjust="spacingAndGlyphs">C1</text>
<line x1="650.00" y1="163.00" x2="675.00" y2="163.00" stroke="#2a2a2a" stroke-width="1.15"/>
<text x="667.50" y="161.30" font-size="14" font-weight="bold" text-anchor="middle" fill="#111" stroke="#111" stroke-width="0.45" textLength="10" lengthAdjust="spacingAndGlyphs">H</text>
<line x1="620.00" y1="118.70" x2="649.00" y2="118.70" stroke="#2a2a2a" stroke-width="1.15"/>
<polygon points="634.20,118.70 628.20,120.08 628.20,117.33" fill="#1c1c16"/>
<polygon points="639.20,118.70 646.20,117.33 646.20,120.08" fill="#1c1c16"/>
<text x="622.00" y="115.80" font-size="14" font-weight="bold" text-anchor="middle" fill="#111" stroke="#111" stroke-width="0.45" textLength="16" lengthAdjust="spacingAndGlyphs">T1</text>
<line x1="631.70" y1="118.00" x2="631.70" y2="140.00" stroke="#2a2a2a" stroke-width="0.8049999999999999" stroke-dasharray="2 2"/>
<line x1="634.00" y1="70.80" x2="737.50" y2="70.80" stroke="#555" stroke-width="1.6099999999999999"/>
<line x1="634.00" y1="297.30" x2="738.00" y2="297.30" stroke="#2a2a2a" stroke-width="1.38"/>
<line x1="736.50" y1="70.80" x2="736.50" y2="297.30" stroke="#2a2a2a" stroke-width="1.15"/>
<polygon points="736.50,70.80 738.00,78.80 735.00,78.80" fill="#1c1c16"/>
<polygon points="736.50,297.30 735.00,289.30 738.00,289.30" fill="#1c1c16"/>
<line x1="641.70" y1="106.70" x2="710.00" y2="106.70" stroke="#555" stroke-width="1.6099999999999999"/>
<line x1="639.20" y1="261.00" x2="710.00" y2="261.00" stroke="#2a2a2a" stroke-width="1.15"/>
<line x1="707.90" y1="106.70" x2="707.90" y2="261.00" stroke="#2a2a2a" stroke-width="1.15"/>
<polygon points="707.90,106.70 709.40,114.70 706.40,114.70" fill="#1c1c16"/>
<polygon points="707.90,261.00 706.40,253.00 709.40,253.00" fill="#1c1c16"/>
<line x1="639.20" y1="133.00" x2="695.00" y2="133.00" stroke="#2a2a2a" stroke-width="1.15"/>
<line x1="639.20" y1="234.80" x2="695.00" y2="234.80" stroke="#2a2a2a" stroke-width="1.15"/>
<line x1="693.20" y1="133.00" x2="693.20" y2="234.80" stroke="#2a2a2a" stroke-width="1.15"/>
<polygon points="693.20,133.00 694.70,141.00 691.70,141.00" fill="#1c1c16"/>
<polygon points="693.20,234.80 691.70,226.80 694.70,226.80" fill="#1c1c16"/>
<line x1="639.20" y1="141.50" x2="680.00" y2="141.50" stroke="#2a2a2a" stroke-width="1.15"/>
<line x1="658.40" y1="225.00" x2="680.00" y2="225.00" stroke="#2a2a2a" stroke-width="1.15"/>
<line x1="677.80" y1="141.50" x2="677.80" y2="225.00" stroke="#2a2a2a" stroke-width="1.15"/>
<polygon points="677.80,141.50 679.30,149.50 676.30,149.50" fill="#1c1c16"/>
<polygon points="677.80,225.00 676.30,217.00 679.30,217.00" fill="#1c1c16"/>
<line x1="723.30" y1="161.00" x2="723.30" y2="285.30" stroke="#2a2a2a" stroke-width="1.15"/>
<line x1="635.00" y1="285.30" x2="725.00" y2="285.30" stroke="#2a2a2a" stroke-width="1.15"/>
<polygon points="723.30,285.30 721.80,277.30 724.80,277.30" fill="#1c1c16"/>
<text x="675.60" y="186.50" font-size="15.5" font-weight="bold" text-anchor="middle" fill="#111" stroke="#111" stroke-width="0.45" transform="rotate(-90 675.60 186.50)">G</text>
<text x="690.70" y="186.50" font-size="15.5" font-weight="bold" text-anchor="middle" fill="#111" stroke="#111" stroke-width="0.45" transform="rotate(-90 690.70 186.50)">F</text>
<text x="705.00" y="186.50" font-size="15.5" font-weight="bold" text-anchor="middle" fill="#111" stroke="#111" stroke-width="0.45" transform="rotate(-90 705.00 186.50)">E</text>
<text x="720.70" y="186.50" font-size="15.5" font-weight="bold" text-anchor="middle" fill="#111" stroke="#111" stroke-width="0.45" transform="rotate(-90 720.70 186.50)">D</text>
<text x="735.80" y="186.50" font-size="15.5" font-weight="bold" text-anchor="middle" fill="#111" stroke="#111" stroke-width="0.45" transform="rotate(-90 735.80 186.50)">C</text>
<text x="670.00" y="330.40" font-size="15" font-weight="normal" text-anchor="middle" fill="#111" stroke="#111" stroke-width="0.3" textLength="16" lengthAdjust="spacingAndGlyphs">F1</text>
<path d="M680,332.3 L658,332.3 L635.2,289.5" stroke="#2a2a2a" stroke-width="1.12" fill="none"/>
<polygon points="634.20,287.60 637.65,291.43 635.44,292.60" fill="#1c1c16"/>
<line x1="633.40" y1="297.50" x2="633.40" y2="355.50" stroke="#2a2a2a" stroke-width="1.15"/>
<line x1="460.50" y1="353.20" x2="503.50" y2="353.20" stroke="#2a2a2a" stroke-width="1.265"/>
<line x1="518.30" y1="353.20" x2="633.40" y2="353.20" stroke="#2a2a2a" stroke-width="1.265"/>
<polygon points="460.50,353.20 468.50,351.70 468.50,354.70" fill="#1c1c16"/>
<polygon points="633.40,353.20 625.40,354.70 625.40,351.70" fill="#1c1c16"/>
<text x="546.20" y="350.00" font-size="15" font-weight="bold" text-anchor="middle" fill="#111" stroke="#111" stroke-width="0.45" textLength="18.2" lengthAdjust="spacingAndGlyphs">G1</text>
<line x1="489.00" y1="339.20" x2="512.50" y2="339.20" stroke="#2a2a2a" stroke-width="1.035"/>
<line x1="510.60" y1="339.20" x2="510.60" y2="404.40" stroke="#2a2a2a" stroke-width="1.15"/>
<polygon points="510.60,339.20 511.98,346.20 509.23,346.20" fill="#1c1c16"/>
<polygon points="510.60,404.40 509.23,397.40 511.98,397.40" fill="#1c1c16"/>
<line x1="483.30" y1="404.40" x2="512.50" y2="404.40" stroke="#2a2a2a" stroke-width="1.15"/>
<text x="504.20" y="369.60" font-size="13.5" font-weight="normal" text-anchor="middle" fill="#111" stroke="#111" stroke-width="0.3" transform="rotate(-90 504.20 369.60)" textLength="23" lengthAdjust="spacingAndGlyphs">(55)</text>
<line x1="440.90" y1="425.90" x2="480.20" y2="425.90" stroke="#2a2a2a" stroke-width="1.15"/>
<polygon points="440.90,425.90 447.90,424.52 447.90,427.27" fill="#1c1c16"/>
<polygon points="480.20,425.90 473.20,427.27 473.20,424.52" fill="#1c1c16"/>
<text x="461.00" y="423.00" font-size="14.5" font-weight="normal" text-anchor="middle" fill="#111" stroke="#111" stroke-width="0.3">33</text>
<text x="395.80" y="372.50" font-size="13.5" font-weight="normal" text-anchor="middle" fill="#111" stroke="#111" stroke-width="0.3" textLength="30" lengthAdjust="spacingAndGlyphs">PT1"</text>
<path d="M386,374.3 L409.2,374.3 L458.3,340" stroke="#2a2a2a" stroke-width="1.12" fill="none"/>
</g>
</svg>
</body></html>
